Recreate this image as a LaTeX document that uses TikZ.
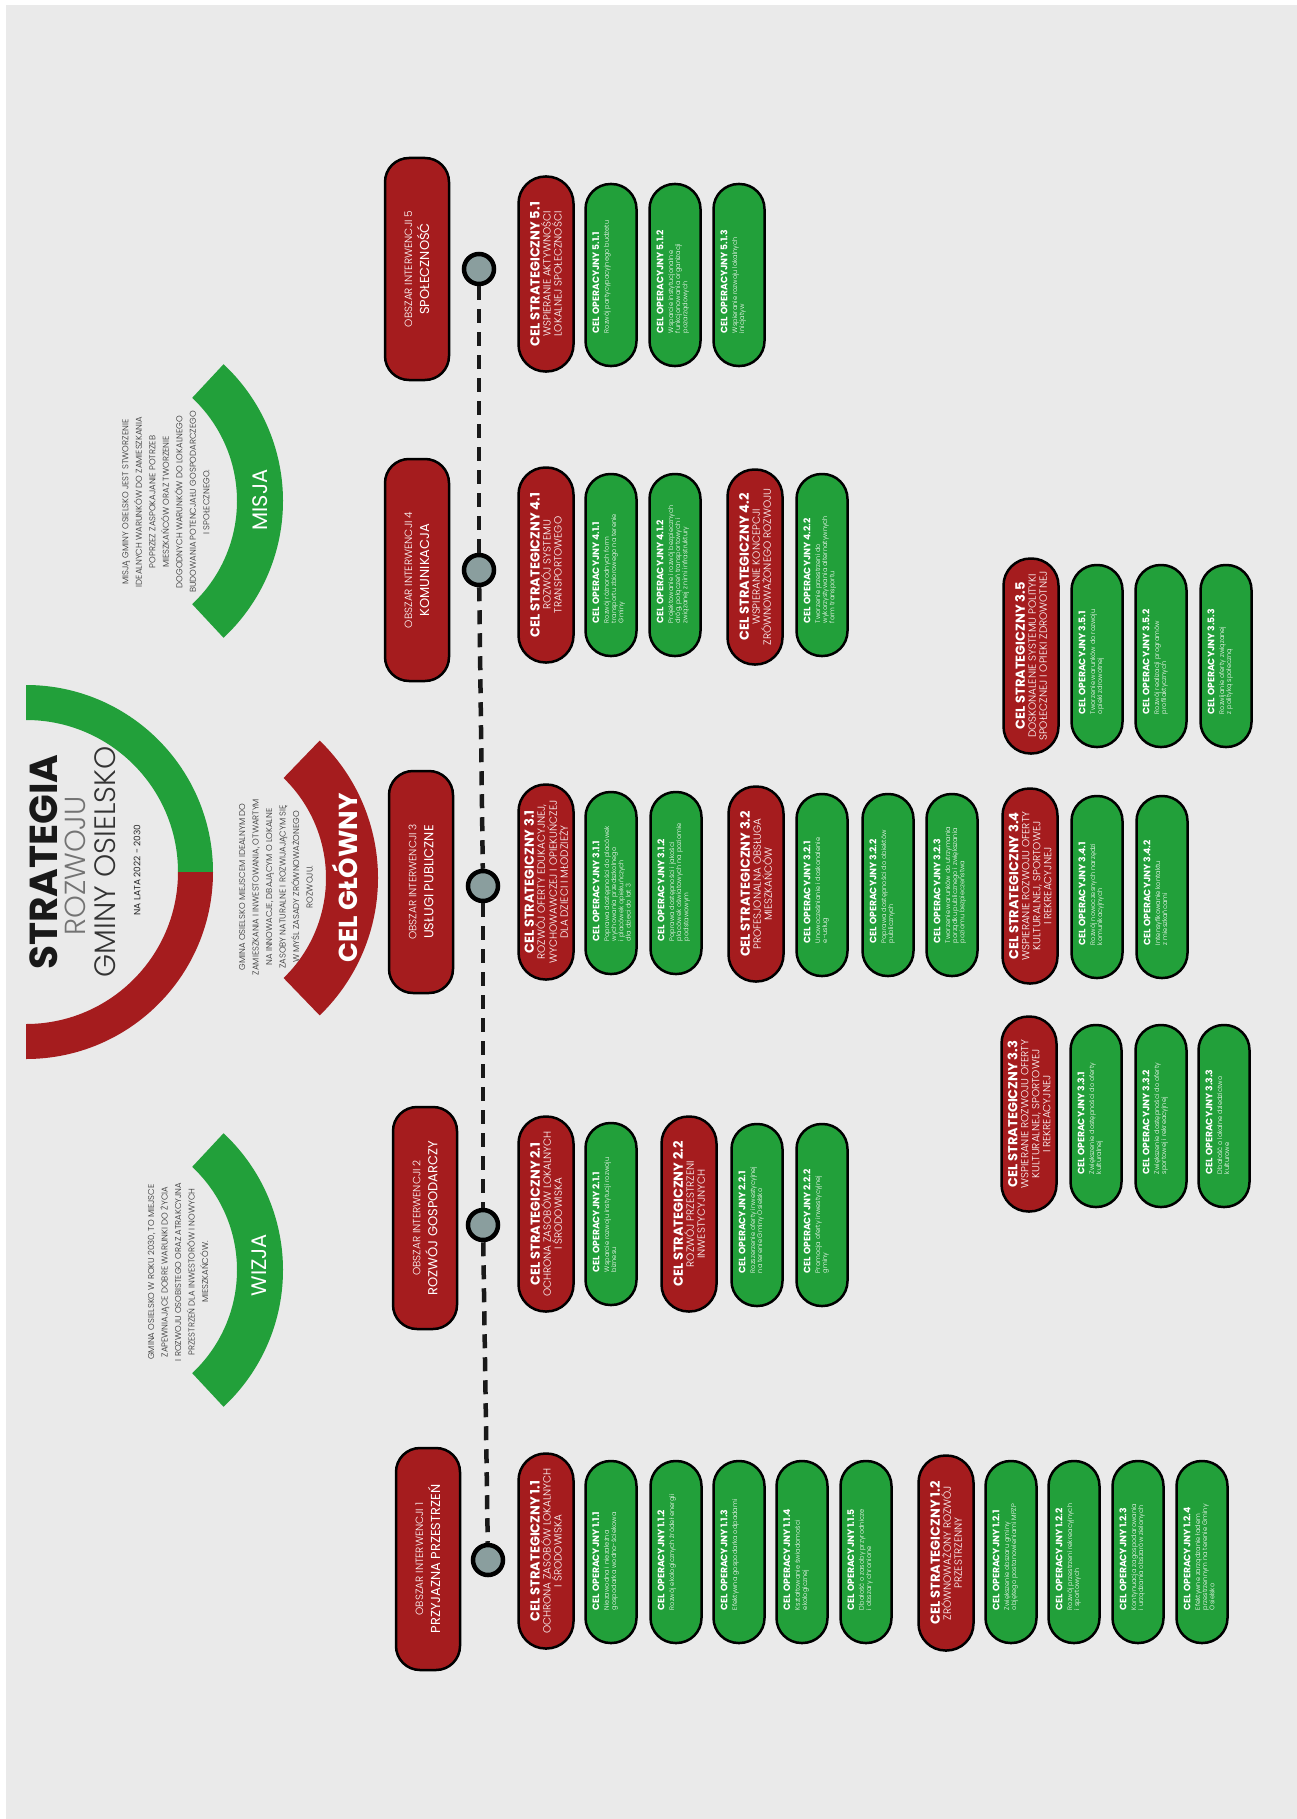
\documentclass[tikz,border=0pt]{standalone}
\usepackage{fontspec}
\setmainfont{Poppins}
\newfontfamily\lightfont{Poppins Light}
\usetikzlibrary{calc}
\definecolor{cred}{HTML}{A51C1E}
\definecolor{cgreen}{HTML}{22A03A}
\definecolor{cbg}{HTML}{EAEAEA}
\definecolor{cdot}{HTML}{8A9E9E}
\definecolor{ctxt}{HTML}{2E2E2E}
\newcommand{\myfs}[2]{\fontsize{#1}{#2}\selectfont}
\newcommand{\rpill}[5]{\node[rpill] (#1) at (#2,#3) {{\normalfont\bfseries\myfs{13}{13}CEL STRATEGICZNY #4}\\#5};}
\newcommand{\gpill}[5]{\node[gpill] (#1) at (#2,#3) {};
  \node[gtext] (#1t) at ($(#1.north west)+(8,-34)$) {{\normalfont\bfseries\myfs{9.2}{10}CEL OPERACYJNY #4}\\[2.5pt]#5};}
\begin{document}
\begin{tikzpicture}[x=1pt,y=-1pt,
  rpill/.style={rotate=90, draw=black, line width=2.5pt, fill=cred, rounded corners=27pt,
    minimum width=195pt, minimum height=55pt, inner sep=0pt, align=center, text=white,
    font=\lightfont\myfs{10.4}{11}},
  gpill/.style={rotate=90, draw=black, line width=2.5pt, fill=cgreen, rounded corners=25pt,
    minimum width=182pt, minimum height=51pt, inner sep=0pt},
  gtext/.style={rotate=90, anchor=north west, align=left, text=white, inner sep=0pt,
    font=\lightfont\myfs{6.6}{7.2}},
  obszar/.style={rotate=90, draw=black, line width=2.5pt, fill=cred, rounded corners=24pt,
    minimum width=222pt, minimum height=64pt, inner sep=0pt, align=center, text=white,
    font=\myfs{13}{17}},
  dot/.style={circle, draw=black, line width=4.5pt, fill=cdot, minimum size=30pt, inner sep=0pt},
  dashline/.style={line width=4.5pt, draw=black!90, dash pattern=on 14pt off 9pt},
  body/.style={rotate=90, align=center, text=ctxt, inner sep=0pt, font=\lightfont\myfs{8.5}{13.5}},
  arclabel/.style={rotate=90, text=white, inner sep=0pt}
]
\useasboundingbox (0,0) rectangle (1297,1819);
\fill[white] (0,0) rectangle (1297,1819);
\fill[cbg] (6,5) rectangle (1297,1819);

% ---- title arc
\coordinate (tc) at (26,872);
\fill[cgreen] ($(tc)+(-90:187)$) arc[start angle=-90,end angle=0,radius=187]
  -- ($(tc)+(0:152)$) arc[start angle=0,end angle=-90,radius=152] -- cycle;
\fill[cred] ($(tc)+(0:187)$) arc[start angle=0,end angle=90,radius=187]
  -- ($(tc)+(90:152)$) arc[start angle=90,end angle=0,radius=152] -- cycle;
\node[rotate=90, inner sep=0pt, text=black!90, font=\bfseries\myfs{39}{39}] (t1) at (44,862) {STRATEGIA};
\node[rotate=90, inner sep=0pt, text=black!55, font=\lightfont\myfs{29}{29}] (t2) at (75,866) {ROZWOJU};
\node[rotate=90, inner sep=0pt, text=black!80, font=\lightfont\myfs{29.5}{30}] (t3) at (105,862) {GMINY OSIELSKO};
\node[rotate=90, inner sep=0pt, text=black!85, font=\myfs{9}{9}] (t4) at (137,870) {NA LATA 2022 - 2030};

% ---- misja arc
\coordinate (mc) at (96,501);
\fill[cgreen] ($(mc)+(-47:187)$) arc[start angle=-47,end angle=47,radius=187]
  -- ($(mc)+(47:141)$) arc[start angle=47,end angle=-47,radius=141] -- cycle;
\node[body] (mtext) at (166,502) {MISJĄ GMINY OSIELSKO JEST STWORZENIE\\IDEALNYCH WARUNKÓW DO ZAMIESZKANIA\\POPRZEZ ZASPOKAJANIE POTRZEB\\MIESZKAŃCÓW ORAZ TWORZENIE\\DOGODNYCH WARUNKÓW DO LOKALNEGO\\BUDOWANIA POTENCJAŁU GOSPODARCZEGO\\I SPOŁECZNEGO.};
\node[arclabel, font=\myfs{21}{21}] (mlab) at (260,500) {MISJA};

% ---- wizja arc
\coordinate (wc) at (96,1270);
\fill[cgreen] ($(wc)+(-47:187)$) arc[start angle=-47,end angle=47,radius=187]
  -- ($(wc)+(47:141)$) arc[start angle=47,end angle=-47,radius=141] -- cycle;
\node[body] (wtext) at (178,1272) {GMINA OSIELSKO W ROKU 2030, TO MIEJSCE\\ZAPEWNIAJĄCE DOBRE WARUNKI DO ŻYCIA\\I ROZWOJU OSOBISTEGO ORAZ ATRAKCYJNA\\PRZESTRZEŃ DLA INWESTORÓW I NOWYCH\\MIESZKAŃCÓW.};
\node[arclabel, font=\myfs{21}{21}] (wlab) at (259,1265) {WIZJA};

% ---- cel glowny arc
\coordinate (gc) at (187,878);
\fill[cred] ($(gc)+(-46:191)$) arc[start angle=-46,end angle=46,radius=191]
  -- ($(gc)+(46:139)$) arc[start angle=46,end angle=-46,radius=139] -- cycle;
\node[body] (gtext) at (276,887) {GMINA OSIELSKO MIEJSCEM IDEALNYM DO\\ZAMIESZKANIA I INWESTOWANIA, OTWARTYM\\NA INNOWACJE, DBAJĄCYM O LOKALNE\\ZASOBY NATURALNE I ROZWIJAJĄCYM SIĘ\\W MYŚL ZASADY ZRÓWNOWAŻONEGO\\ROZWOJU.};
\node[arclabel, font=\bfseries\myfs{26}{26}] (glab) at (345,878) {CEL GŁÓWNY};

% ---- timeline
\node[dot] (c5) at (479,269) {};
\node[dot] (c4) at (479,570) {};
\node[dot] (c3) at (483,886) {};
\node[dot] (c2) at (483,1225) {};
\node[dot] (c1) at (488,1560) {};
\draw[dashline] (c5) -- (c4);
\draw[dashline] (c4) -- (c3);
\draw[dashline] (c3) -- (c2);
\draw[dashline] (c2) -- (c1);

\node[obszar] (a5) at (417,269) {{\lightfont\myfs{10.5}{14}OBSZAR INTERWENCJI 5}\\SPOŁECZNOŚĆ};
\node[obszar] (a4) at (417,570) {{\lightfont\myfs{10.5}{14}OBSZAR INTERWENCJI 4}\\KOMUNIKACJA};
\node[obszar] (a3) at (421,882) {{\lightfont\myfs{10.5}{14}OBSZAR INTERWENCJI 3}\\USŁUGI PUBLICZNE};
\node[obszar] (a2) at (425,1218) {{\lightfont\myfs{10.5}{14}OBSZAR INTERWENCJI 2}\\ROZWÓJ GOSPODARCZY};
\node[obszar] (a1) at (428,1559) {{\lightfont\myfs{10.5}{14}OBSZAR INTERWENCJI 1}\\PRZYJAZNA PRZESTRZEŃ};

% ---- area 5
\rpill{s51}{546}{274}{5.1}{WSPIERANIE AKTYWNOŚCI\\LOKALNEJ SPOŁECZNOŚCI}
\gpill{o511}{611}{275}{5.1.1}{Rozwój partycypacyjnego budżetu}
\gpill{o512}{675}{275}{5.1.2}{Wsparcie instytucjonalne\\funkcjonowania organizacji\\pozarządowych}
\gpill{o513}{739}{275}{5.1.3}{Wspieranie rozwoju lokalnych\\inicjatyw}

% ---- area 4
\rpill{s41}{546}{565}{4.1}{ROZWÓJ SYSTEMU\\TRANSPORTOWEGO}
\gpill{o411}{611}{565}{4.1.1}{Rozwój różnorodnych form\\transportu zbiorowego na terenie\\Gminy}
\gpill{o412}{675}{565}{4.1.2}{Projektowanie i rozwój bezpiecznych\\dróg, połączeń transportowych i\\związanej z nimi infrastruktury}
\rpill{s42}{755}{567}{4.2}{WSPIERANIE KONCEPCJI\\ZRÓWNOWAŻONEGO ROZWOJU}
\gpill{o422}{822}{565}{4.2.2}{Tworzenie przestrzeni do\\wykorzystywania alternatywnych\\form transportu}

% ---- area 3
\rpill{s35}{1031}{656}{3.5}{DOSKONALENIE SYSTEMU POLITYKI\\SPOŁECZNEJ I OPIEKI ZDROWOTNEJ}
\gpill{o351}{1097}{656}{3.5.1}{Tworzenie warunków do rozwoju\\opieki zdrowotnej}
\gpill{o352}{1161}{656}{3.5.2}{Rozwój realizacji programów\\profilaktycznych}
\gpill{o353}{1226}{656}{3.5.3}{Rozwijanie oferty związanej\\z polityką społeczną}

\rpill{s31}{546}{882}{3.1}{ROZWÓJ OFERTY EDUKACYJNEJ,\\WYCHOWAWCZEJ I OPIEKUŃCZEJ\\DLA DZIECI I MŁODZIEŻY}
\gpill{o311}{611}{883}{3.1.1}{Poprawa dostępności do placówek\\wychowania przedszkolnego\\i placówek opiekuńczych\\dla dzieci do lat 3}
\gpill{o312}{676}{883}{3.1.2}{Poprawa dostępności i jakości\\placówek oświatowych na poziomie\\podstawowym}
\rpill{s32}{756}{884}{3.2}{PROFESJONALNA OBSŁUGA\\MIESZKAŃCÓW}
\gpill{o321}{822}{885}{3.2.1}{Unowocześnianie i doskonalenie\\e-usług}
\gpill{o322}{888}{885}{3.2.2}{Poprawa dostępności do obiektów\\publicznych}
\gpill{o323}{952}{885}{3.2.3}{Tworzenie warunków do utrzymania\\porządku publicznego i zwiększania\\poziomu bezpieczeństwa}
\rpill{s34}{1030}{886}{3.4}{WSPIERANIE ROZWOJU OFERTY\\KULTURALNEJ, SPORTOWEJ\\I REKREACYJNEJ}
\gpill{o341}{1097}{887}{3.4.1}{Rozwój nowoczesnych narzędzi\\komunikacyjnych}
\gpill{o342}{1162}{887}{3.4.2}{Intensyfikowanie kontaktu\\z mieszkańcami}

\rpill{s33}{1029}{1114}{3.3}{WSPIERANIE ROZWOJU OFERTY\\KULTURALNEJ, SPORTOWEJ\\I REKREACYJNEJ}
\gpill{o331}{1096}{1116}{3.3.1}{Zwiększenie dostępności do oferty\\kulturalnej}
\gpill{o332}{1161}{1116}{3.3.2}{Zwiększenie dostępności do oferty\\sportowej i rekreacyjnej}
\gpill{o333}{1224}{1116}{3.3.3}{Dbałość o lokalne dziedzictwo\\kulturowe}

% ---- area 2
\rpill{s21}{546}{1214}{2.1}{OCHRONA ZASOBÓW LOKALNYCH\\I ŚRODOWISKA}
\gpill{o211}{611}{1214}{2.1.1}{Wsparcie rozwoju instytucji rozwoju\\biznesu}
\rpill{s22}{689}{1214}{2.2}{ROZWÓJ PRZESTRZENI\\INWESTYCYJNYCH}
\gpill{o221}{757}{1215}{2.2.1}{Rozszerzenie oferty inwestycyjnej\\na terenie Gminy Osielsko}
\gpill{o222}{822}{1215}{2.2.2}{Promocja oferty inwestycyjnej\\gminy}

% ---- area 1
\rpill{s11}{546}{1551}{1.1}{OCHRONA ZASOBÓW LOKALNYCH\\I ŚRODOWISKA}
\gpill{o111}{611}{1552}{1.1.1}{Niezawodna i niezależna\\gospodarka wodno-ściekowa}
\gpill{o112}{676}{1552}{1.1.2}{Rozwój ekologicznych źródeł energii}
\gpill{o113}{739}{1552}{1.1.3}{Efektywna gospodarka odpadami}
\gpill{o114}{802}{1552}{1.1.4}{Kształtowanie świadomości\\ekologicznej}
\gpill{o115}{866}{1552}{1.1.5}{Dbałość o zasoby przyrodnicze\\i obszary chronione}
\rpill{s12}{946}{1553}{1.2}{ZRÓWNOWAŻONY ROZWÓJ\\PRZESTRZENNY}
\gpill{o121}{1011}{1552}{1.2.1}{Zwiększenie obszaru gminy\\objętego postanowieniami MPZP}
\gpill{o122}{1074}{1552}{1.2.2}{Rozwój przestrzeni rekreacyjnych\\i sportowych}
\gpill{o123}{1138}{1552}{1.2.3}{Kontynuacja zagospodarowania\\i urządzania obszarów zielonych}
\gpill{o124}{1202}{1552}{1.2.4}{Efektywne zarządzanie ładem\\przestrzennym na terenie Gminy\\Osielsko}
\end{tikzpicture}
\end{document}
